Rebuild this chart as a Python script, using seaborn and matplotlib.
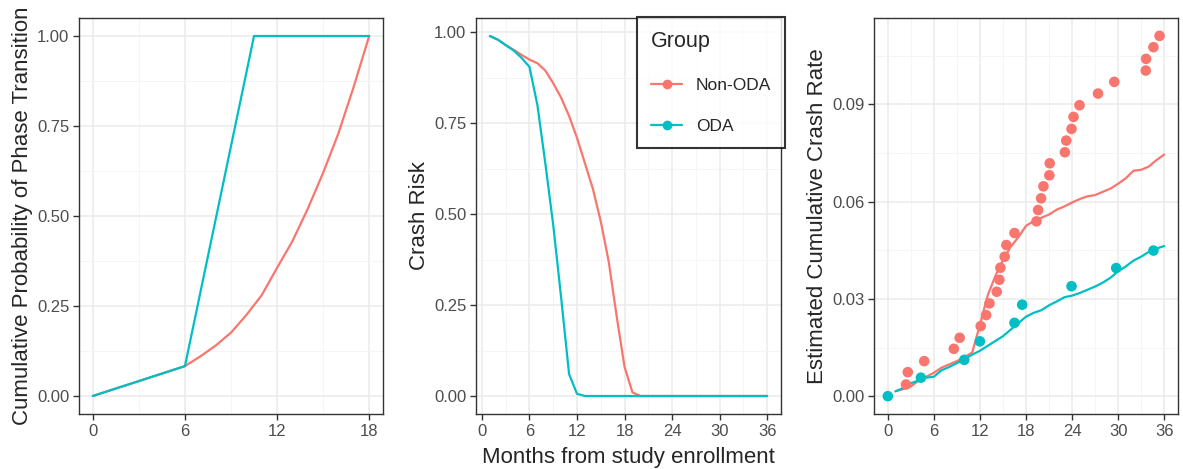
import numpy as np
import pandas as pd
import matplotlib.pyplot as plt
import seaborn as sns
from matplotlib.lines import Line2D
from matplotlib.ticker import MultipleLocator

# panel 1: cumulative probability of phase transition
p1_months_non = [0, 6, 7, 8, 9, 10, 11, 12, 13, 14, 15, 16, 17, 18]
p1_non_oda = [0.0, 0.083, 0.11, 0.14, 0.176, 0.225, 0.28, 0.356, 0.43, 0.52, 0.62, 0.73, 0.86, 1.0]
p1_months_oda = [0, 6, 10.5, 18]
p1_oda = [0.0, 0.083, 1.0, 1.0]

# panel 2: crash risk
p2_months = list(range(1, 37))
p2_non_oda = [0.99, 0.98, 0.965, 0.952, 0.938, 0.925, 0.915, 0.895, 0.86, 0.82, 0.77, 0.71,
              0.64, 0.57, 0.48, 0.37, 0.22, 0.08, 0.01, 0.0] + [0.0] * 16
p2_oda = [0.99, 0.98, 0.965, 0.95, 0.93, 0.905, 0.80, 0.64, 0.47, 0.27, 0.06, 0.006] + [0.0] * 24

# panel 3: estimated cumulative crash rate (lines)
p3_months = list(range(1, 37))
p3_line_non = [0.0015, 0.0022, 0.003, 0.0048, 0.006, 0.0072, 0.0088, 0.0098, 0.0108, 0.012, 0.0135, 0.022,
               0.031, 0.037, 0.042, 0.046, 0.049, 0.0525, 0.054, 0.055, 0.056, 0.0575, 0.0585, 0.0597,
               0.0608, 0.0616, 0.062, 0.063, 0.064, 0.0655, 0.0672, 0.0695, 0.0698, 0.0708, 0.0728, 0.0745]
p3_line_oda = [0.0015, 0.0025, 0.004, 0.0048, 0.0057, 0.006, 0.008, 0.009, 0.0102, 0.0115, 0.0128, 0.014,
               0.0155, 0.017, 0.0185, 0.0205, 0.0225, 0.0245, 0.0257, 0.0265, 0.028, 0.0292, 0.0305, 0.031,
               0.0318, 0.0328, 0.0338, 0.035, 0.0365, 0.0385, 0.04, 0.0418, 0.043, 0.0445, 0.0455, 0.0463]

# panel 3: observed points
p3_pts_non_x = [2.37, 2.6, 4.74, 8.6, 9.36, 12.1, 12.8, 13.24, 14.19, 14.53, 14.66, 15.22, 15.44, 16.5,
                19.36, 19.58, 19.97, 20.27, 21.04, 21.09, 23.07, 23.24, 23.93, 24.19, 24.97, 27.38,
                29.5, 33.6, 33.64, 34.6, 35.4]
p3_pts_non_y = [0.0036, 0.0074, 0.0108, 0.0146, 0.018, 0.0216, 0.025, 0.0286, 0.0322, 0.0359, 0.0396,
                0.043, 0.0466, 0.0503, 0.0539, 0.0574, 0.061, 0.0647, 0.0681, 0.0718, 0.0752, 0.0788,
                0.0824, 0.0861, 0.0897, 0.0933, 0.0969, 0.1004, 0.104, 0.1076, 0.1111]
p3_pts_oda_x = [0, 4.31, 9.96, 11.99, 16.5, 17.5, 23.93, 29.75, 34.6]
p3_pts_oda_y = [0.0, 0.0057, 0.0112, 0.0169, 0.0226, 0.0282, 0.0339, 0.0395, 0.0449]

groups = ['Non-ODA', 'ODA']
palette = {'Non-ODA': '#F8766D', 'ODA': '#00BFC4'}

def make_df(xa, ya, xb, yb):
    return pd.DataFrame({
        'month': list(xa) + list(xb),
        'value': list(ya) + list(yb),
        'Group': ['Non-ODA'] * len(xa) + ['ODA'] * len(xb),
    })

df1 = make_df(p1_months_non, p1_non_oda, p1_months_oda, p1_oda)
df2 = make_df(p2_months, p2_non_oda, p2_months, p2_oda)
df3 = make_df(p3_months, p3_line_non, p3_months, p3_line_oda)
pts3 = make_df(p3_pts_non_x, p3_pts_non_y, p3_pts_oda_x, p3_pts_oda_y)

sns.set_theme(style='white')
plt.rcParams['font.family'] = ['Liberation Sans', 'DejaVu Sans']

fig = plt.figure(figsize=(11.83, 4.69), dpi=100)
W, H = 1183, 469
def add_ax(l, r, t, b):
    return fig.add_axes([l / W, 1 - b / H, (r - l) / W, (b - t) / H])

ax1 = add_ax(79, 383, 18, 414)
ax2 = add_ax(476, 781, 18, 414)
ax3 = add_ax(874, 1178, 18, 414)

sns.lineplot(data=df1, x='month', y='value', hue='Group', palette=palette, hue_order=groups,
             ax=ax1, lw=1.6, legend=False, estimator=None, sort=False)
sns.lineplot(data=df2, x='month', y='value', hue='Group', palette=palette, hue_order=groups,
             ax=ax2, lw=1.6, legend=False, estimator=None)
sns.lineplot(data=df3, x='month', y='value', hue='Group', palette=palette, hue_order=groups,
             ax=ax3, lw=1.6, legend=False, estimator=None)
sns.scatterplot(data=pts3, x='month', y='value', hue='Group', palette=palette, hue_order=groups,
                ax=ax3, s=58, edgecolor='none', legend=False, zorder=3)

ax1.set_xlim(-0.9, 18.9)
ax1.set_ylim(-0.05, 1.05)
ax1.xaxis.set_major_locator(MultipleLocator(6))
ax1.xaxis.set_minor_locator(MultipleLocator(3))
ax1.yaxis.set_major_locator(MultipleLocator(0.25))
ax1.yaxis.set_minor_locator(MultipleLocator(0.125))
ax1.yaxis.set_major_formatter(lambda v, p: f'{v:.2f}')
ax1.set_ylabel('Cumulative Probability of Phase Transition')

ax2.set_xlim(-0.75, 37.75)
ax2.set_ylim(-0.0495, 1.0395)
ax2.xaxis.set_major_locator(MultipleLocator(6))
ax2.xaxis.set_minor_locator(MultipleLocator(3))
ax2.yaxis.set_major_locator(MultipleLocator(0.25))
ax2.yaxis.set_minor_locator(MultipleLocator(0.125))
ax2.yaxis.set_major_formatter(lambda v, p: f'{v:.2f}')
ax2.set_ylabel('Crash Risk')
ax2.set_xlabel('Months from study enrollment')

ax3.set_xlim(-1.8, 37.8)
ax3.set_ylim(-0.0055, 0.1166)
ax3.xaxis.set_major_locator(MultipleLocator(6))
ax3.xaxis.set_minor_locator(MultipleLocator(3))
ax3.yaxis.set_major_locator(MultipleLocator(0.03))
ax3.yaxis.set_minor_locator(MultipleLocator(0.015))
ax3.yaxis.set_major_formatter(lambda v, p: f'{v:.2f}')
ax3.set_ylabel('Estimated Cumulative Crash Rate')

for ax in (ax1, ax2, ax3):
    if ax is not ax2:
        ax.set_xlabel('')
    ax.grid(True, which='major', color='#EBEBEB', lw=1.1)
    ax.grid(True, which='minor', color='#F4F4F4', lw=0.6)
    ax.set_axisbelow(True)
    for sp in ax.spines.values():
        sp.set_color('#333333')
        sp.set_linewidth(1.0)
    ax.tick_params(axis='both', which='major', length=4, width=1.0, color='#333333',
                   labelsize=12, labelcolor='#4D4D4D', pad=3, bottom=True, left=True)
    ax.tick_params(axis='both', which='minor', length=0)
    ax.yaxis.label.set_size(16)
    ax.xaxis.label.set_size(16)
    ax.yaxis.labelpad = 3
    ax.xaxis.labelpad = 6

handles = [Line2D([0], [0], color=palette[g], lw=1.6, marker='o', markersize=6) for g in groups]
leg = fig.legend(handles, groups, title='Group', loc='upper left',
                 bbox_to_anchor=(637 / W, 1 - 17 / H), frameon=True, fancybox=False,
                 fontsize=12.5, title_fontsize=15.5, borderpad=0.8, labelspacing=1.5,
                 handlelength=1.8, handletextpad=0.8, borderaxespad=0)
leg._legend_box.align = 'left'
leg.get_frame().set_edgecolor('black')
leg.get_frame().set_linewidth(1.5)

fig.savefig('out.png', dpi=100)
